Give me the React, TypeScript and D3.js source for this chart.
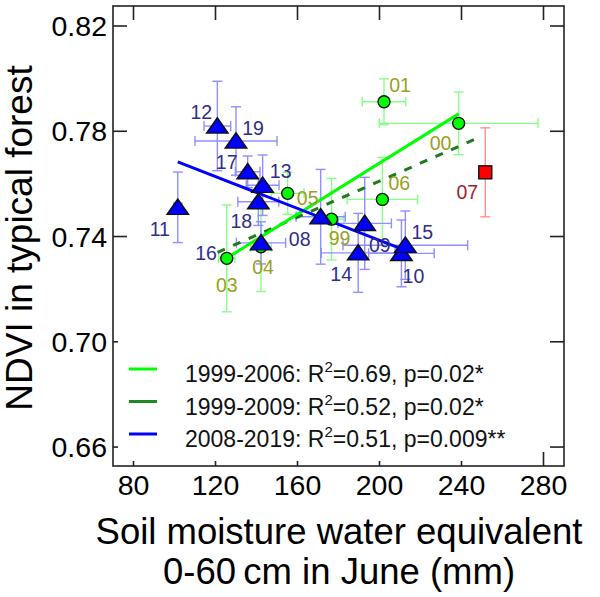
import React, { useRef, useEffect } from "react";
import * as d3 from "d3";

// years (labels) and group of each point
const years = ["99", "00", "01", "03", "04", "05", "06", "07", "08", "09", "10", "11", "12", "13", "14", "15", "16", "17", "18", "19"];
const groups = ["g", "g", "g", "g", "g", "g", "g", "r", "b", "b", "b", "b", "b", "b", "b", "b", "b", "b", "b", "b"];
// soil moisture (mm) and NDVI with their errors
const soil = [176.6, 238.6, 202.2, 125.5, 142.2, 155.2, 201.4, 251.6, 171.3, 192.8, 210.7, 101.6, 120.9, 143.0, 189.6, 212.6, 142.2, 135.7, 140.9, 130.0];
const ndvi = [0.7466, 0.783, 0.7912, 0.7317, 0.7361, 0.7564, 0.7541, 0.7644, 0.7475, 0.745, 0.7336, 0.7511, 0.782, 0.7595, 0.7338, 0.7367, 0.7376, 0.7646, 0.7532, 0.7763];
const soilErr = [6, 38.7, 10.6, 4, 5, 8, 17.2, 0, 12, 13, 16, 2, 6.5, 8, 18, 30.4, 12, 6, 10, 20];
const ndviErr = [0.0155, 0.0119, 0.0087, 0.0203, 0.017, 0.008, 0.016, 0.0169, 0.018, 0.0175, 0.0127, 0.0134, 0.017, 0.0115, 0.015, 0.013, 0.008, 0.006, 0.009, 0.013];

// label offsets from the marker (px)
const labelOffsets: [number, number][] = [
  [8, 19], [-18, 20], [16, -17], [0, 27], [2, 20], [20, 5], [17, -16], [-18, 20],
  [-21, 22], [15, 22], [12, 23], [-18, 22], [-16, -14], [18, -14], [-17, 21], [17, -13],
  [-55, 10], [-21, -10], [-17, 19], [17, -13],
];

// regression lines (end points)
const fitEarly = [[125.5, 0.7318], [238.6, 0.7866]];
const fitLong = [[121, 0.734], [249, 0.7778]];
const fitLate = [[101.6, 0.7684], [212.6, 0.7347]];

const legendNames = ["1999-2006", "1999-2009", "2008-2019"];
const legendR2 = ["0.69", "0.52", "0.51"];
const legendP = ["0.02*", "0.02*", "0.009**"];

const xTicks = [80, 120, 160, 200, 240, 280];
const yTicks = [0.66, 0.7, 0.74, 0.78, 0.82];

const App = () => {
  const svgRef = useRef<SVGSVGElement>(null);
  useEffect(() => {
    const width = 600, height = 597;
    const left = 113, right = 564, top = 6, bottom = 466;
    const font = "Arial, 'Liberation Sans', sans-serif";

    d3.select(svgRef.current).selectAll("*").remove();
    const svg = d3.select(svgRef.current).attr("width", width).attr("height", height);

    const x = d3.scaleLinear().domain([70, 290]).range([left, right]);
    const y = d3.scaleLinear().domain([0.6528, 0.8276]).range([bottom, top]);

    const fill = { g: "#00ff00", r: "#ff0000", b: "#0000ff" };
    const barCol = { g: "#88ff88", r: "#ff8f8f", b: "#8f8fff" };
    const labCol = { g: "#98a01e", r: "#99232a", b: "#2e2e88" };

    // ticks (inward)
    const tl = 14;
    const axis = svg.append("g").attr("stroke", "#222").attr("stroke-width", 1.6);
    xTicks.forEach((t) => {
      axis.append("line").attr("x1", x(t)).attr("x2", x(t)).attr("y1", bottom).attr("y2", bottom - tl);
      axis.append("line").attr("x1", x(t)).attr("x2", x(t)).attr("y1", top).attr("y2", top + tl);
    });
    yTicks.forEach((t) => {
      axis.append("line").attr("x1", left).attr("x2", left + tl).attr("y1", y(t)).attr("y2", y(t));
      axis.append("line").attr("x1", right).attr("x2", right - tl).attr("y1", y(t)).attr("y2", y(t));
    });

    svg.append("g").selectAll("text").data(xTicks).enter().append("text")
      .attr("x", (d) => x(d)).attr("y", 495).attr("text-anchor", "middle")
      .attr("font-family", font).attr("font-size", 28.5).text((d) => d);
    svg.append("g").selectAll("text").data(yTicks).enter().append("text")
      .attr("x", 107).attr("y", (d) => y(d) + 10).attr("text-anchor", "end")
      .attr("font-family", font).attr("font-size", 28.5).text((d) => d.toFixed(2));

    // error bars
    const cap = 5;
    const bars = svg.append("g").attr("stroke-width", 1.4).attr("fill", "none");
    years.forEach((yr, i) => {
      const c = barCol[groups[i]];
      const cx = x(soil[i]), cy = y(ndvi[i]);
      const y0 = y(ndvi[i] - ndviErr[i]), y1 = y(ndvi[i] + ndviErr[i]);
      bars.append("line").attr("stroke", c).attr("x1", cx).attr("x2", cx).attr("y1", y0).attr("y2", y1);
      bars.append("line").attr("stroke", c).attr("x1", cx - cap).attr("x2", cx + cap).attr("y1", y0).attr("y2", y0);
      bars.append("line").attr("stroke", c).attr("x1", cx - cap).attr("x2", cx + cap).attr("y1", y1).attr("y2", y1);
      if (soilErr[i] > 0) {
        const x0 = x(soil[i] - soilErr[i]), x1 = x(soil[i] + soilErr[i]);
        bars.append("line").attr("stroke", c).attr("x1", x0).attr("x2", x1).attr("y1", cy).attr("y2", cy);
        bars.append("line").attr("stroke", c).attr("x1", x0).attr("x2", x0).attr("y1", cy - cap).attr("y2", cy + cap);
        bars.append("line").attr("stroke", c).attr("x1", x1).attr("x2", x1).attr("y1", cy - cap).attr("y2", cy + cap);
      }
    });

    // regression lines
    const line = d3.line<number[]>().x((d) => x(d[0])).y((d) => y(d[1]));
    svg.append("path").attr("d", line(fitLong)).attr("fill", "none")
      .attr("stroke", "#1f7a1f").attr("stroke-width", 3).attr("stroke-dasharray", "8,9");
    svg.append("path").attr("d", line(fitEarly)).attr("fill", "none")
      .attr("stroke", "#00ff00").attr("stroke-width", 3);
    svg.append("path").attr("d", line(fitLate)).attr("fill", "none")
      .attr("stroke", "#0000ff").attr("stroke-width", 3);

    // markers
    const tri = d3.symbol().type(d3.symbolTriangle).size(150);
    const marks = svg.append("g").attr("stroke", "#111").attr("stroke-width", 1.4);
    years.forEach((yr, i) => {
      const cx = x(soil[i]), cy = y(ndvi[i]);
      if (groups[i] === "g") {
        marks.append("circle").attr("cx", cx).attr("cy", cy).attr("r", 6).attr("fill", fill.g);
      }
    });
    years.forEach((yr, i) => {
      const cx = x(soil[i]), cy = y(ndvi[i]);
      if (groups[i] === "b") {
        marks.append("path").attr("d", tri()).attr("fill", fill.b)
          .attr("transform", `translate(${cx},${cy + 2}) scale(1.15,0.95)`);
      } else if (groups[i] === "r") {
        marks.append("rect").attr("x", cx - 6.5).attr("y", cy - 6.5)
          .attr("width", 13).attr("height", 13).attr("fill", fill.r);
      }
    });

    // point labels
    svg.append("g").selectAll("text").data(years).enter().append("text")
      .attr("x", (d, i) => x(soil[i]) + labelOffsets[i][0])
      .attr("y", (d, i) => y(ndvi[i]) + labelOffsets[i][1] + 7)
      .attr("text-anchor", "middle").attr("font-family", font).attr("font-size", 19.5)
      .attr("fill", (d, i) => labCol[groups[i]]).text((d) => d);

    // legend
    svg.append("rect").attr("x", 118).attr("y", 326).attr("width", 390).attr("height", 135).attr("fill", "#fff");
    const legCols = ["#00ff00", "#1f8a1f", "#0000ff"];
    legendNames.forEach((name, i) => {
      const ly = 369 + i * 32.5;
      svg.append("line").attr("x1", 129).attr("x2", 157).attr("y1", ly).attr("y2", ly)
        .attr("stroke", legCols[i]).attr("stroke-width", 3);
      const t = svg.append("text").attr("x", 185).attr("y", ly + 13)
        .attr("font-family", font).attr("font-size", 23).attr("fill", "#111");
      t.append("tspan").text(`${name}: R`);
      t.append("tspan").attr("dy", -10).attr("font-size", 15).text("2");
      t.append("tspan").attr("dy", 10).text(`=${legendR2[i]}, p=${legendP[i]}`);
    });

    // frame
    svg.append("rect").attr("x", left).attr("y", top).attr("width", right - left).attr("height", bottom - top)
      .attr("fill", "none").attr("stroke", "#222").attr("stroke-width", 1.6);

    // axis titles
    svg.append("text").attr("transform", "translate(32,238) rotate(-90)").attr("text-anchor", "middle")
      .attr("font-family", font).attr("font-size", 37).text("NDVI in typical forest");
    svg.append("text").attr("x", 339).attr("y", 544).attr("text-anchor", "middle")
      .attr("font-family", font).attr("font-size", 36.5).text("Soil moisture water equivalent");
    svg.append("text").attr("x", 339).attr("y", 584).attr("text-anchor", "middle")
      .attr("font-family", font).attr("font-size", 36.5).text("0-60\u2009cm in June (mm)");
  }, []);

  return <svg ref={svgRef} style={{ position: "absolute", left: 0, top: 0 }}></svg>;
};

export default App;
